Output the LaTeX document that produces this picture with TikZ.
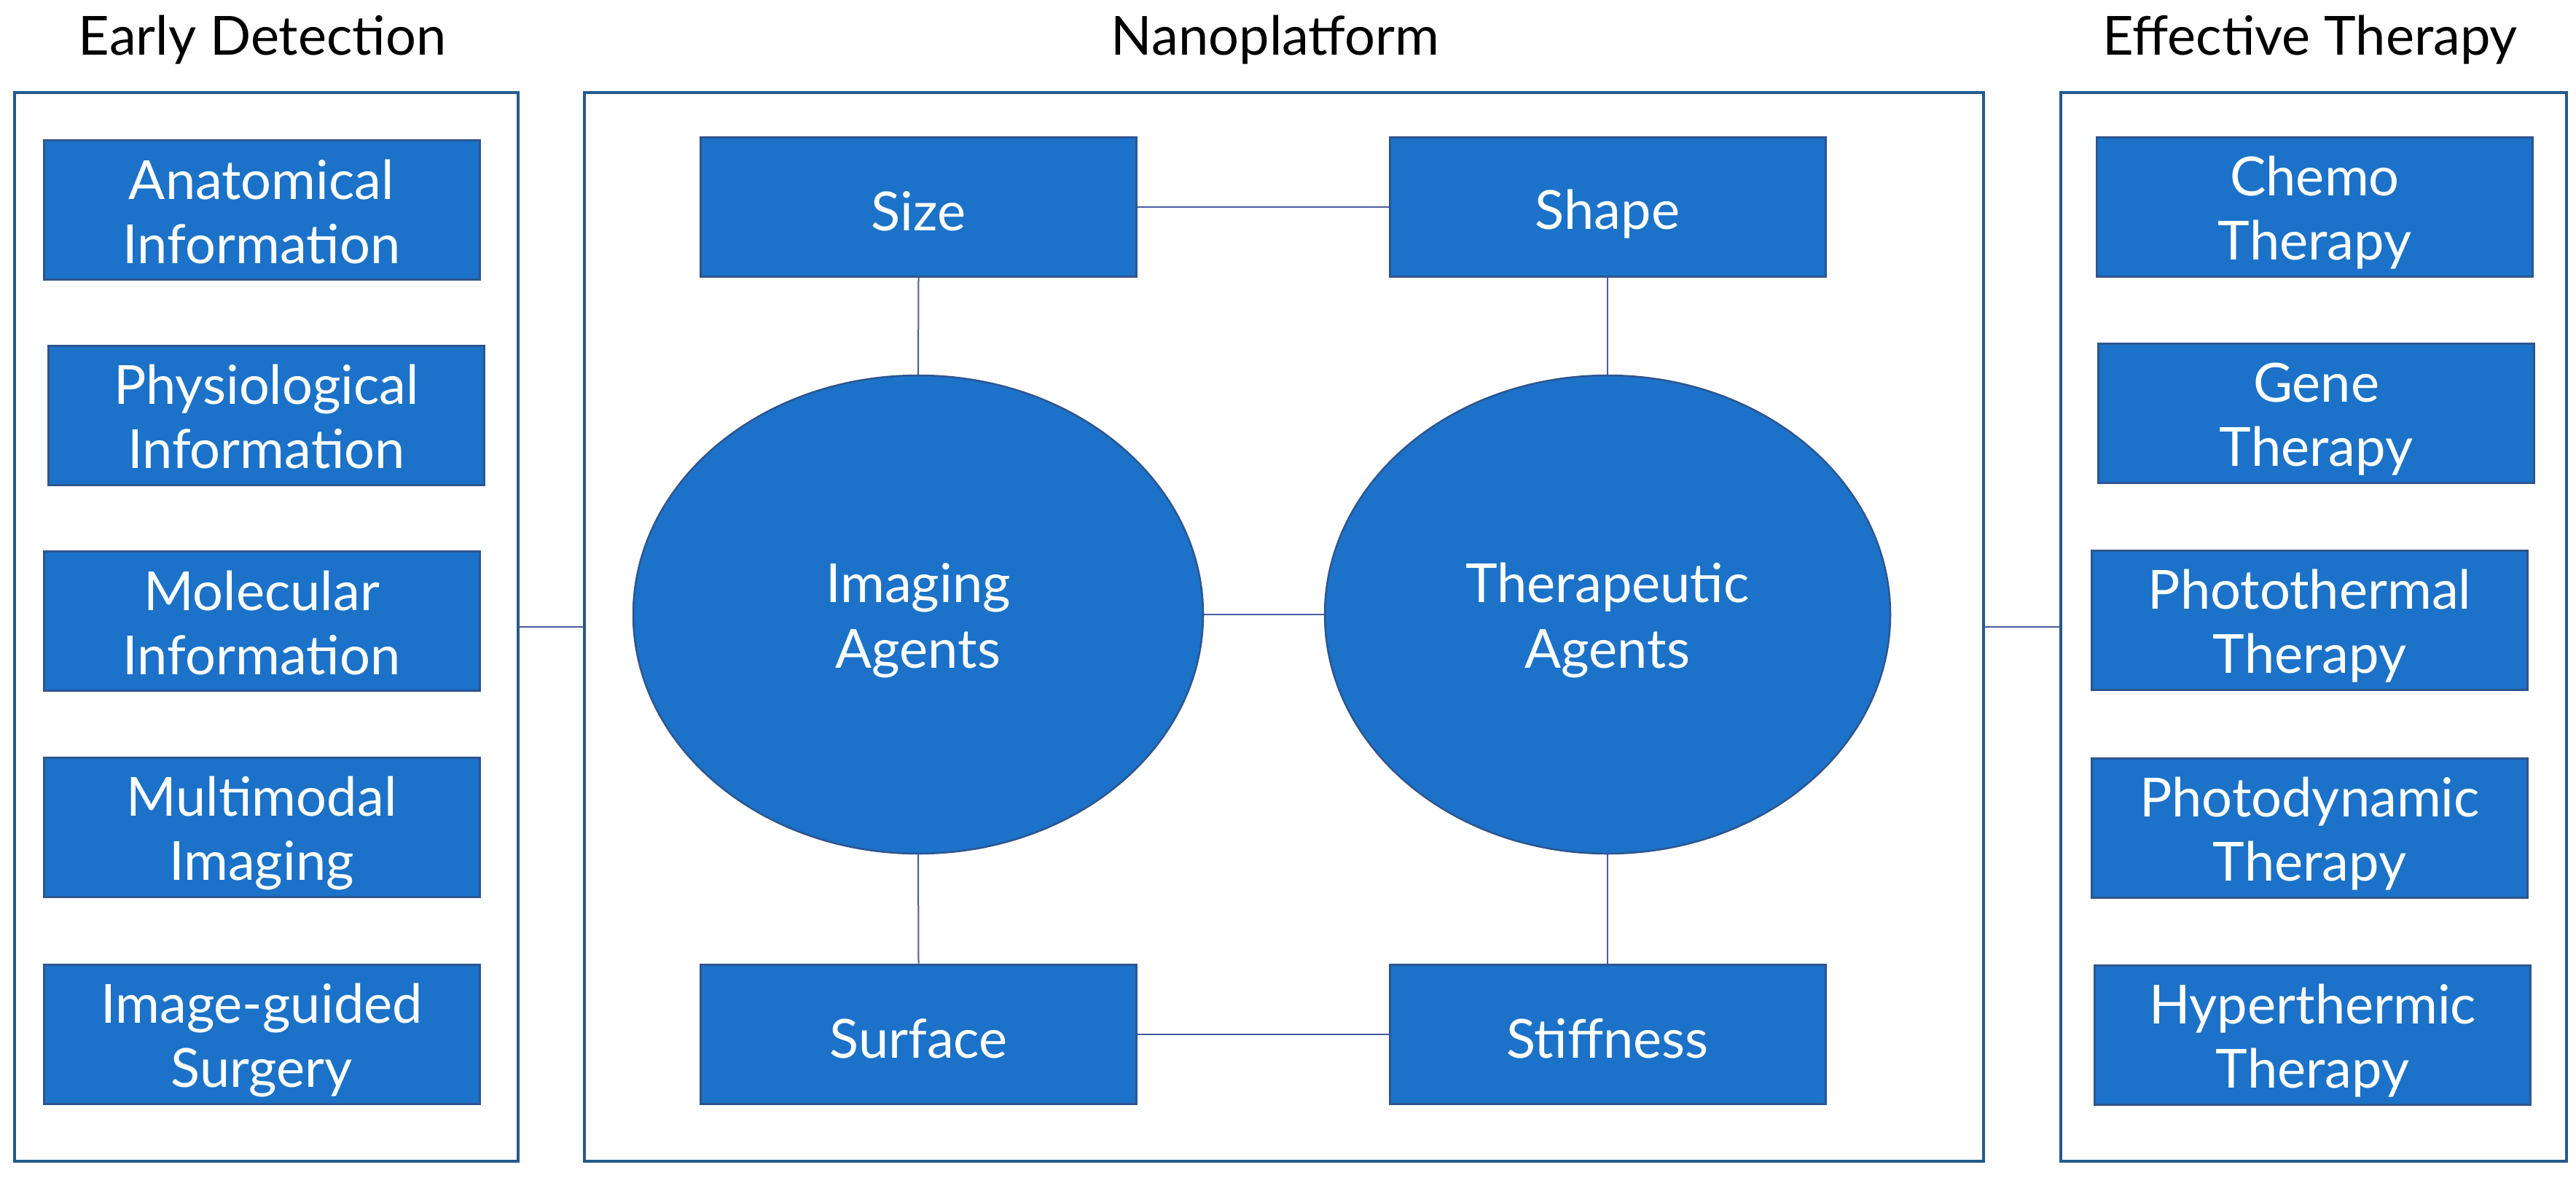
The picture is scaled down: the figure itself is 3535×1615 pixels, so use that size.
\documentclass[tikz,border=0pt]{standalone}
\usepackage{fontspec}
\setmainfont{Lato}
\usetikzlibrary{shapes.geometric}
\definecolor{boxfill}{HTML}{1B72C8}
\definecolor{boxedge}{HTML}{2E5590}
\definecolor{framec}{HTML}{245A8D}
\definecolor{linkc}{HTML}{4A5BA0}
\newcommand\twoln[2]{\rule{0pt}{70pt}#1\\#2\rule[-12pt]{0pt}{12pt}}
\newcommand\oneln[1]{\rule{0pt}{74pt}#1\rule[-8pt]{0pt}{8pt}}
\begin{document}
\begin{tikzpicture}[x=1pt,y=-1pt,
  frame/.style={rectangle,draw=framec,line width=3.5pt,fill=white,inner sep=0pt},
  bluebox/.style={rectangle,draw=boxedge,line width=3pt,fill=boxfill,text=white,
    align=center,inner sep=0pt,minimum width=598pt,minimum height=191pt,
    font=\fontsize{74pt}{88pt}\selectfont},
  agent/.style={ellipse,draw=boxedge,line width=2.5pt,fill=boxfill,text=white,
    align=center,inner sep=0pt,minimum height=656pt,
    font=\fontsize{74pt}{90pt}\selectfont},
  title/.style={anchor=base,font=\fontsize{74pt}{88pt}\selectfont,text=black,inner sep=0pt},
  link/.style={draw=linkc,line width=2pt}]
\fill[white] (0,0) rectangle (3535,1615);
\useasboundingbox (0,0) rectangle (3535,1615);

% titles
\node[title] (tleft) at (360,75) {Early Detection};
\node[title] (tmid) at (1750,75) {Nanoplatform};
\node[title] (tright) at (3170,75) {Effective Therapy};

% frames
\node[frame,minimum width=691pt,minimum height=1466pt] (lf) at (365.5,860) {};
\node[frame,minimum width=1920pt,minimum height=1466pt] (mf) at (1762,860) {};
\node[frame,minimum width=694pt,minimum height=1466pt] (rf) at (3175,860) {};

% left boxes
\node[bluebox] (anat) at (359,288) {\twoln{Anatomical}{Information}};
\node[bluebox] (phys) at (365.5,569.5) {\twoln{Physiological}{Information}};
\node[bluebox] (mole) at (359,852) {\twoln{Molecular}{Information}};
\node[bluebox] (mult) at (359,1135) {\twoln{Multimodal}{Imaging}};
\node[bluebox] (igs) at (359,1419) {\twoln{Image-guided}{Surgery}};

% right boxes
\node[bluebox] (chemo) at (3176.5,283.5) {\twoln{Chemo}{Therapy}};
\node[bluebox] (gene) at (3178.5,566.5) {\twoln{Gene}{Therapy}};
\node[bluebox] (ptt) at (3169.5,850.5) {\twoln{Photothermal}{Therapy}};
\node[bluebox] (pdt) at (3169.5,1135.5) {\twoln{Photodynamic}{Therapy}};
\node[bluebox] (hyp) at (3173.5,1420) {\twoln{Hyperthermic}{Therapy}};

% middle
\node[bluebox] (size) at (1260.5,283.5) {\oneln{Size}};
\node[bluebox] (shape) at (2206,283.5) {\oneln{Shape}};
\node[bluebox] (surf) at (1260.5,1418.5) {\oneln{Surface}};
\node[bluebox] (stiff) at (2206,1418.5) {\oneln{Stiffness}};
\node[agent,minimum width=782pt] (img) at (1260,843) {\twoln{Imaging}{Agents}};
\node[agent,minimum width=776pt] (ther) at (2206,843) {\twoln{Therapeutic}{Agents}};

% connectors
\draw[link] (size.east) -- (shape.west);
\draw[link] (size.south) -- (img.north);
\draw[link] (shape.south) -- (ther.north);
\draw[link] (img.east) -- (ther.west);
\draw[link] (img.south) -- (surf.north);
\draw[link] (ther.south) -- (stiff.north);
\draw[link] (surf.east) -- (stiff.west);
\draw[link] (lf.east) -- (mf.west);
\draw[link] (mf.east) -- (rf.west);
\end{tikzpicture}
\end{document}
